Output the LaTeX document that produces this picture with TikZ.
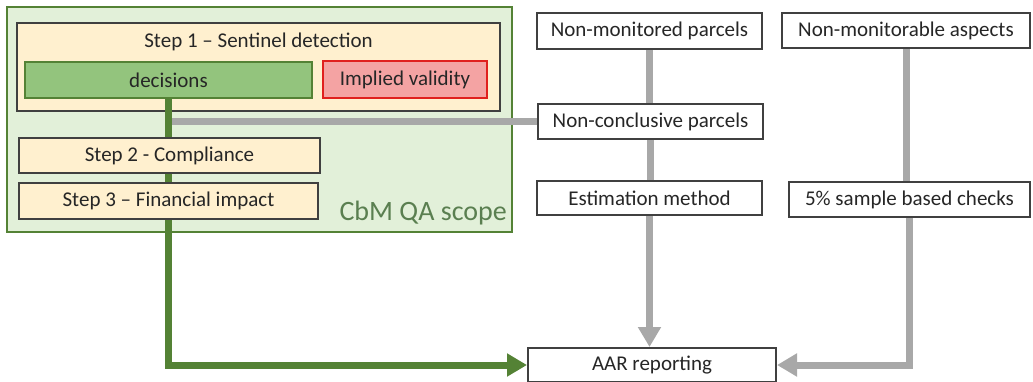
\documentclass[tikz,border=0pt]{standalone}
\usepackage{fontspec}
\setmainfont{Carlito}
\usetikzlibrary{arrows.meta}
\definecolor{dgreen}{HTML}{548235}
\definecolor{lgreen}{HTML}{E2F0D9}
\definecolor{mgreen}{HTML}{93C47D}
\definecolor{cream}{HTML}{FFF0CF}
\definecolor{lred}{HTML}{F4A3A3}
\definecolor{bred}{HTML}{E0201E}
\definecolor{edgegray}{HTML}{404040}
\definecolor{linegray}{HTML}{A8A8A8}
\definecolor{txt}{HTML}{262626}
\definecolor{scopetxt}{HTML}{5A7F50}
\begin{document}
\begin{tikzpicture}[x=1pt,y=-1pt,
  box/.style={draw=edgegray,line width=2pt,inner sep=0pt,text=txt,font=\fontsize{21}{24}\selectfont},
  whitebox/.style={box,fill=white},
  stepbox/.style={box,fill=cream,line width=2.5pt},
  grayline/.style={draw=linegray,line width=7pt},
  grayarrow/.style={grayline,-{Triangle[length=20pt,width=22pt]}},
  greenline/.style={draw=dgreen,line width=7pt},
]
\useasboundingbox (0,0) rectangle (1033,381);
% outer scope
\node[draw=dgreen,fill=lgreen,line width=2.5pt,minimum width=505pt,minimum height=225pt,inner sep=0pt] (scope) at (259.5,119.5) {};
\node[text=scopetxt,font=\fontsize{28}{32}\selectfont,anchor=base east,inner sep=0pt] (scopelbl) at (507,220) {CbM QA scope};
% step 1
\node[stepbox,minimum width=483pt,minimum height=88pt] (step1) at (258.5,67) {};
\node[text=txt,font=\fontsize{21}{24}\selectfont,inner sep=0pt] (step1lbl) at (258.5,42) {Step 1 – Sentinel detection};
\node[box,draw=dgreen,fill=mgreen,minimum width=287pt,minimum height=36pt] (decisions) at (168.5,80) {decisions};
\node[box,draw=bred,fill=lred,line width=2.5pt,minimum width=164pt,minimum height=37pt] (implied) at (405,79.5) {Implied validity};
% right column boxes
\node[whitebox,minimum width=225pt,minimum height=36pt] (nonmon) at (649.5,31) {Non-monitored parcels};
\node[whitebox,minimum width=248pt,minimum height=35pt] (nonmonab) at (906,30.5) {Non-monitorable aspects};
\node[whitebox,minimum width=225pt,minimum height=35pt] (noncon) at (650.5,121.5) {Non-conclusive parcels};
\node[whitebox,minimum width=225pt,minimum height=34pt] (estim) at (649.5,198) {Estimation method};
\node[whitebox,minimum width=241pt,minimum height=35pt] (sample) at (909.5,199.5) {5\% sample based checks};
\node[whitebox,minimum width=248pt,minimum height=34pt] (aar) at (652,365) {AAR reporting};
% gray connectors
\draw[grayline] (noncon.west) -- (noncon.west -| decisions.south);
\draw[grayline] (nonmon.south) -- (nonmon.south |- noncon.north);
\draw[grayline] (noncon.south) -- (noncon.south |- estim.north);
\draw[grayarrow] (estim.south) -- (estim.south |- aar.north);
\draw[grayline] (nonmonab.south) -- (nonmonab.south |- sample.north);
\draw[grayarrow] (sample.south) |- (aar.east);
% green connector
\draw[greenline,-{Triangle[length=20pt,width=22pt]}] (decisions.south) |- (aar.west);
% steps 2 and 3
\node[stepbox,minimum width=301pt,minimum height=35pt] (step2) at (169.5,155.5) {Step 2 - Compliance};
\node[stepbox,minimum width=299pt,minimum height=36pt] (step3) at (168.5,201) {Step 3 – Financial impact};
\end{tikzpicture}
\end{document}
